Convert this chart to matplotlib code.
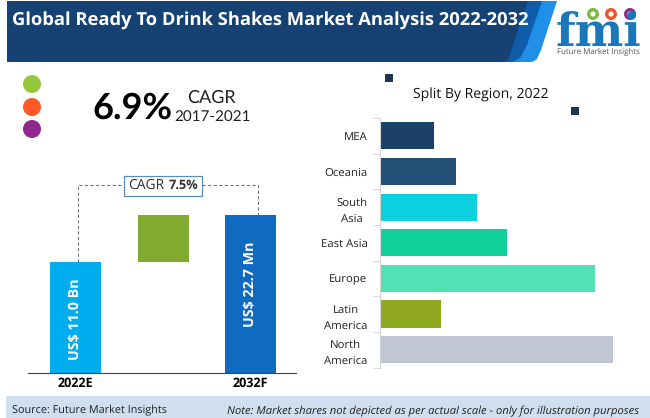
import matplotlib
matplotlib.use('Agg')
import matplotlib.pyplot as plt
from matplotlib.patches import Circle, PathPatch, Polygon, Rectangle
from matplotlib.path import Path

plt.rcParams['text.hinting'] = 'no_hinting'

W, H = 650, 418

# region split, relative shares
regions = ['North\nAmerica', 'Latin\nAmerica', 'Europe', 'East Asia', 'South\nAsia', 'Oceania', 'MEA']
region_values = [233, 61, 215, 127, 97, 76, 54]
region_colors = ['#c0c6d3', '#8fa820', '#52e0b5', '#10d09a', '#0bd0e0', '#234e75', '#1c4166']

# market size columns, drawn heights as in the picture
years = ['2022E', '', '2032F']
column_bottoms = [0, 111, 0]
column_heights = [111, 47, 158]
column_colors = ['#00aeef', '#80ab30', '#0e6bc0']
column_labels = ['US$ 11.0 Bn', '', 'US$ 22.7 Mn']

bullet_colors = ['#96c83c', '#ff5a26', '#93268f']
logo_dots = ['#7cb93e', '#f0562a', '#8e2a8c']


def px_axes(fig, left, top, right, bottom):
    return fig.add_axes([left / W, 1 - bottom / H, (right - left) / W, (bottom - top) / H])


def draw_header(ax):
    dark = Path([(7, 1), (528, 1), (508, 60), (503, 62), (7, 62), (7, 1)],
                [Path.MOVETO, Path.LINETO, Path.LINETO, Path.LINETO, Path.LINETO, Path.CLOSEPOLY])
    light = Polygon([(530, 1), (557, 1), (541, 50), (537, 59), (532, 62), (505, 62)],
                    closed=True, fc='#1f8fe8', ec='none')
    mid = Polygon([(525, 1), (542, 1), (527, 45), (520, 58), (513, 62), (500, 62)],
                  closed=True, fc='#0f5ca8', ec='none')
    ax.add_patch(light)
    ax.add_patch(mid)
    ax.add_patch(PathPatch(dark, fc='#154273', ec='none'))
    ax.text(12, 21, 'Global Ready To Drink Shakes Market Analysis 2022-2032', color='white',
            fontsize=13.2, fontweight='bold', family='Open Sans', va='center')


def draw_logo(ax):
    ax.text(598, 46, 'fmi', color='#1a78b8', fontsize=33, fontweight='bold',
            family='DejaVu Serif', ha='center', va='baseline')
    for y in range(21, 47, 4):
        ax.add_patch(Rectangle((555, y), 90, 1, fc='white', ec='none'))
    for x, c in zip([593, 611, 630], logo_dots):
        ax.add_patch(Circle((x, 14), 6, fc=c, ec='none'))
        ax.add_patch(Circle((x, 14), 2.6, fc='white', ec='none'))
    ax.text(598, 52, 'Future Market Insights', color='#555555', fontsize=5.7,
            family='Open Sans', ha='center', va='center')


def draw_cagr(ax):
    for y, c in zip([84, 107, 129], bullet_colors):
        ax.add_patch(Circle((32, y), 9, fc=c, ec='none'))
    ax.text(92, 108, '6.9%', fontsize=26, fontweight='bold', family='Lato', color='black', va='center')
    ax.text(211, 98, 'CAGR', fontsize=13, family='Lato', color='#222222', ha='center', va='center')
    ax.text(212, 117, '2017-2021', fontsize=11, family='Lato', color='#222222', ha='center', va='center')
    ax.add_patch(Rectangle((385, 74), 8, 8, fc='#1b3552', ec='none'))
    ax.add_patch(Rectangle((571, 107), 8, 8, fc='#1b3552', ec='none'))
    ax.text(481, 95, 'Split By Region, 2022', fontsize=10.05, family='Open Sans', color='#111111',
            ha='center', va='center')


def draw_bracket(ax):
    ax.plot([77.5, 77.5, 123], [262, 185, 185], color='#777777', lw=0.8, ls=(0, (3, 2)))
    ax.plot([202, 257.5, 257.5], [185, 185, 215], color='#777777', lw=0.8, ls=(0, (3, 2)))
    ax.add_patch(Rectangle((123.5, 175.5), 78, 20, fc='white', ec='#5b8bb8', lw=0.9))
    ax.text(128, 185.5, 'CAGR', fontsize=10, family='Open Sans', color='#333333', va='center')
    ax.text(169, 185.5, '7.5%', fontsize=9.2, family='Open Sans', fontweight='bold', color='#333333', va='center')


def draw_footer(ax):
    ax.add_patch(Rectangle((6, 396), 644, 22, fc='#cfdff0', ec='none'))
    ax.text(12, 411, 'Source: Future Market Insights', fontsize=7.8, family='Open Sans', color='#222222', va='center')
    ax.text(227, 411, 'Note: Market shares not depicted as per actual scale - only for illustration purposes',
            fontsize=8.1, family='Open Sans', style='italic', color='#222222', va='center')


def draw_columns(fig):
    ax = px_axes(fig, 28, 170, 296, 373)
    x = [75.5, 163, 250.5]
    ax.bar(x, column_heights, bottom=column_bottoms, width=51, color=column_colors)
    ax.set_xlim(28, 296)
    ax.set_ylim(0, 203)
    label_y = [54, 0, 88.5]
    for xi, yi, label in zip(x, label_y, column_labels):
        if label:
            ax.text(xi, yi, label, rotation=90, color='white', fontsize=10.3,
                    fontweight='bold', family='Open Sans', ha='center', va='center')
    ax.set_xticks([x[0], x[2]])
    ax.set_xticklabels([years[0], years[2]], fontsize=9, fontweight='bold', family='Open Sans')
    ax.tick_params(axis='x', length=0, pad=3)
    ax.set_yticks([])
    for side in ['top', 'left', 'right']:
        ax.spines[side].set_visible(False)
    ax.spines['bottom'].set_color('#444444')
    ax.patch.set_alpha(0)


def draw_regions(fig):
    ax = px_axes(fig, 380, 118, 640, 367.5)
    y = list(range(len(regions)))
    ax.barh(y, region_values, height=0.76, color=region_colors)
    ax.set_xlim(0, 260)
    ax.set_ylim(-0.5, 6.5)
    ax.set_yticks(y)
    ax.set_yticklabels(regions, fontsize=8.2, family='Open Sans', color='#222222', linespacing=1.6,
                       ha='right', ma='center')
    ax.tick_params(axis='y', length=0, pad=9)
    ax.set_yticks([i - 0.5 for i in range(8)], minor=True)
    ax.tick_params(axis='y', which='minor', length=5, color='#d4d4d4')
    ax.set_xticks([])
    for side in ['top', 'bottom', 'right']:
        ax.spines[side].set_visible(False)
    ax.spines['left'].set_color('#d4d4d4')
    ax.patch.set_alpha(0)


def main():
    fig = plt.figure(figsize=(W / 100, H / 100), dpi=100)
    canvas = fig.add_axes([0, 0, 1, 1])
    canvas.set_xlim(0, W)
    canvas.set_ylim(H, 0)
    canvas.axis('off')

    draw_header(canvas)
    draw_logo(canvas)
    draw_cagr(canvas)
    draw_bracket(canvas)
    draw_footer(canvas)
    draw_columns(fig)
    draw_regions(fig)

    plt.savefig('out.png', dpi=100)


if __name__ == '__main__':
    main()
